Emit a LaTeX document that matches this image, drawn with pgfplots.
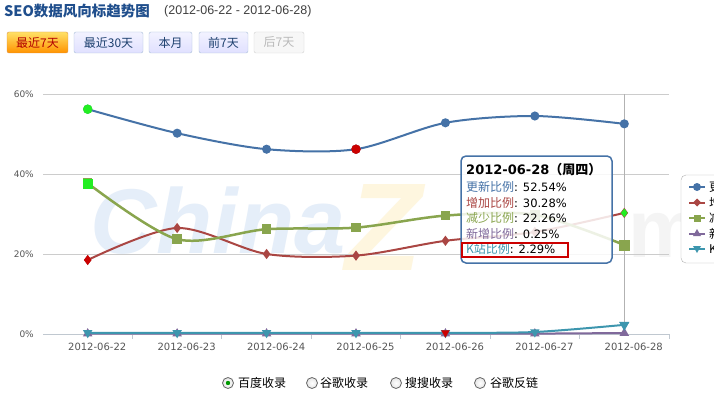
\documentclass[border=0pt]{standalone}
\usepackage{pgfplots}
\pgfplotsset{compat=1.18}
\usepackage{fontspec}
\setmainfont{DejaVu Sans}
\newfontfamily\cjk{Noto Sans CJK SC}
\newfontfamily\lib{Liberation Sans}
\definecolor{hcblue}{HTML}{4572A7}
\definecolor{hcred}{HTML}{AA4643}
\definecolor{hcgreen}{HTML}{89A54E}
\definecolor{hcpurple}{HTML}{80699B}
\definecolor{hcteal}{HTML}{3D96AE}
\definecolor{maxg}{HTML}{22EE22}
\definecolor{minr}{HTML}{CC0000}
\definecolor{gridgray}{HTML}{CCCCCC}
\definecolor{axisgray}{HTML}{C0C8D0}
\definecolor{labgray}{HTML}{555555}
\definecolor{titleblue}{HTML}{1F4E8C}
\definecolor{wmblue}{HTML}{E5EEF9}
\definecolor{wmyellow}{HTML}{FEF6DF}
\definecolor{btnborder}{HTML}{A9BFD8}
\definecolor{btntext}{HTML}{1C3F6E}
\begin{document}
\begin{tikzpicture}[x=1pt,y=1pt]
\useasboundingbox (0,0) rectangle (714,397);
\fill[white] (0,0) rectangle (714,397);
% title
\node[anchor=west, inner sep=0pt, text=titleblue] at (4,386) {\cjk\bfseries\fontsize{14.5}{16}\selectfont SEO数据风向标趋势图};
\node[anchor=west, inner sep=0pt, text=black!75] at (164,386) {\lib\fontsize{12.5}{14}\selectfont (2012-06-22 - 2012-06-28)};
% buttons
\draw[draw=orange!80!black!70, rounded corners=2pt, top color=yellow!60!orange!60, bottom color=orange!85!yellow] (7,344) rectangle (68,365);
\node[text=red!70!black, inner sep=0pt] at (37.5,354.5) {\cjk\fontsize{12}{14}\selectfont 最近7天};
\foreach \a/\b/\t in {74/143/最近30天,149/192/本月,199/248/前7天}{
  \draw[draw=btnborder, rounded corners=2pt, top color=white!95!blue, bottom color=blue!12!white] (\a,344) rectangle (\b,365);
  \node[text=btntext, inner sep=0pt] at ({(\a+\b)/2},354.5) {\cjk\fontsize{12}{14}\selectfont \t};
}
\draw[draw=gray!35, rounded corners=2pt, fill=gray!6] (254,344) rectangle (304,365);
\node[text=gray!55, inner sep=0pt] at (279,354.5) {\cjk\fontsize{12}{14}\selectfont 后7天};
% watermark
\node[anchor=west, inner sep=0pt, text=wmyellow] at (345,170) {\lib\bfseries\itshape\fontsize{125}{125}\selectfont Z};
\node[anchor=west, inner sep=0pt, text=wmblue] at (90,176) {\lib\bfseries\itshape\fontsize{92}{92}\selectfont China};
\node[anchor=west, inner sep=0pt, text=gray!9] at (628,162) {\lib\bfseries\fontsize{82}{82}\selectfont m};
\begin{axis}[
  at={(43pt,63pt)}, anchor=south west, scale only axis,
  width=626pt, height=240pt,
  xmin=-0.5, xmax=6.5, ymin=0, ymax=60,
  axis x line*=bottom, axis y line*=left,
  x axis line style={draw=axisgray, line width=1pt, -},
  y axis line style={draw=none},
  xtick={0,...,6},
  xticklabels={2012-06-22,2012-06-23,2012-06-24,2012-06-25,2012-06-26,2012-06-27,2012-06-28},
  minor xtick={0.5,1.5,...,6.5},
  major tick length=0pt, minor tick length=5pt, tick align=outside,
  minor tick style={draw=axisgray, line width=0.8pt},
  ytick={0,20,40,60},
  yticklabels={0\%,20\%,40\%,60\%},
  ymajorgrids, grid style={draw=gridgray, line width=0.8pt},
  xticklabel style={font=\fontsize{10}{12}\selectfont, text=labgray, inner sep=0pt, yshift=-9pt, xshift=9.5pt},
  yticklabel style={font=\fontsize{9}{11}\selectfont, text=labgray, inner sep=0pt, xshift=-9pt},
  clip=false,
]
\addplot[gray!60, line width=0.8pt] coordinates {(6,0)(6,60)};
\addplot[hcblue, line width=2pt, smooth, mark=*, mark size=3.5pt, mark options={fill=hcblue, draw=hcblue}]
  coordinates {(0,56.2)(1,50.2)(2,46.2)(3,46.2)(4,52.8)(5,54.5)(6,52.54)};
\addplot[hcred, line width=2pt, smooth, mark=diamond*, mark size=3.5pt, mark options={fill=hcred, draw=hcred}]
  coordinates {(0,18.5)(1,26.5)(2,20.0)(3,19.6)(4,23.3)(5,25.5)(6,30.28)};
\addplot[hcgreen, line width=2.5pt, smooth, mark=square*, mark size=3.5pt, mark options={fill=hcgreen, draw=hcgreen}]
  coordinates {(0,37.7)(1,23.7)(2,26.2)(3,26.6)(4,29.6)(5,29.8)(6,22.26)};
\addplot[hcpurple, line width=2pt, smooth, mark=triangle*, mark size=3.5pt, mark options={fill=hcpurple, draw=hcpurple}]
  coordinates {(0,0.1)(1,0.1)(2,0.1)(3,0.1)(4,0.1)(5,0.1)(6,0.25)};
\addplot[hcteal, line width=2pt, smooth, mark=triangle*, mark size=3.5pt, mark options={fill=hcteal, draw=hcteal, rotate=180}]
  coordinates {(0,0.3)(1,0.3)(2,0.3)(3,0.3)(4,0.3)(5,0.5)(6,2.29)};
% highlighted max/min/hover markers
\addplot[only marks, mark=*, mark size=4.5pt, mark options={fill=maxg, draw=maxg}] coordinates {(0,56.2)};
\addplot[only marks, mark=*, mark size=4.5pt, mark options={fill=minr, draw=minr}] coordinates {(3,46.2)};
\addplot[only marks, mark=diamond*, mark size=4.5pt, mark options={fill=minr, draw=minr}] coordinates {(0,18.5)};
\addplot[only marks, mark=diamond*, mark size=4pt, mark options={fill=maxg, draw=maxg}] coordinates {(6,30.28)};
\addplot[only marks, mark=square*, mark size=4.5pt, mark options={fill=maxg, draw=maxg}] coordinates {(0,37.7)};
\addplot[only marks, mark=square*, mark size=5pt, mark options={fill=hcgreen, draw=hcgreen}] coordinates {(6,22.26)};
\addplot[only marks, mark=triangle*, mark size=4.5pt, mark options={fill=minr, draw=minr, rotate=180}] coordinates {(4,0.3)};
\addplot[only marks, mark=triangle*, mark size=5.5pt, mark options={fill=hcteal, draw=hcteal, rotate=180}] coordinates {(6,2.29)};
\end{axis}
% tooltip
\draw[draw=hcblue, line width=1.5pt, rounded corners=5pt, fill=white, fill opacity=0.85] (461,241) rectangle (612,134);
\node[anchor=west, inner sep=0pt] at (466,227) {\bfseries\fontsize{13}{15}\selectfont 2012-06-28{\cjk（周四）}};
\node[anchor=west, inner sep=0pt] at (466,210) {\fontsize{11.5}{14}\selectfont{\cjk\fontsize{12}{14}\selectfont\textcolor{hcblue}{更新比例}}: 52.54\%};
\node[anchor=west, inner sep=0pt] at (466,194.5) {\fontsize{11.5}{14}\selectfont{\cjk\fontsize{12}{14}\selectfont\textcolor{hcred}{增加比例}}: 30.28\%};
\node[anchor=west, inner sep=0pt] at (466,179) {\fontsize{11.5}{14}\selectfont{\cjk\fontsize{12}{14}\selectfont\textcolor{hcgreen}{减少比例}}: 22.26\%};
\node[anchor=west, inner sep=0pt] at (466,163.5) {\fontsize{11.5}{14}\selectfont{\cjk\fontsize{12}{14}\selectfont\textcolor{hcpurple}{新增比例}}: 0.25\%};
\node[anchor=west, inner sep=0pt] at (466,148) {\fontsize{11.5}{14}\selectfont{\cjk\fontsize{12}{14}\selectfont\textcolor{hcteal}{K站比例}}: 2.29\%};
\draw[draw=minr, line width=2.5pt] (462,154) rectangle (568,140);
% legend (partly cut off at the right edge, as in the reference)
\draw[draw=gray!60, rounded corners=5pt, fill=white] (681,222) rectangle (780,134);
\draw[hcblue, line width=2pt] (689,210) -- (705,210); \fill[hcblue] (697,210) circle (4pt);
\draw[hcred, line width=2pt] (689,194.5) -- (705,194.5); \fill[hcred] (697,198.5) -- (701,194.5) -- (697,190.5) -- (693,194.5) -- cycle;
\draw[hcgreen, line width=2pt] (689,179) -- (705,179); \fill[hcgreen] (693.5,175.5) rectangle (700.5,182.5);
\draw[hcpurple, line width=2pt] (689,163.5) -- (705,163.5); \fill[hcpurple] (697,168) -- (701,161) -- (693,161) -- cycle;
\draw[hcteal, line width=2pt] (689,148) -- (705,148); \fill[hcteal] (697,144) -- (701,151) -- (693,151) -- cycle;
\foreach \y/\t in {210/更新比例,194.5/增加比例,179/减少比例,163.5/新增比例,148/K站比例}{
  \node[anchor=west, inner sep=0pt] at (709,\y) {\cjk\fontsize{12}{14}\selectfont \t};
}
% radio buttons
\foreach \cx/\tx/\t in {228/238/百度收录,312/320/谷歌收录,396/405/搜搜收录,480/490/谷歌反链}{
  \draw[draw=gray!80!black, line width=0.8pt, inner color=white, outer color=gray!20] (\cx,14) circle (5.5pt);
  \node[anchor=west, inner sep=0pt] at (\tx,14) {\cjk\fontsize{12}{14}\selectfont \t};
}
\fill[green!60!black] (228,14) circle (2.2pt);
\end{tikzpicture}
\end{document}
